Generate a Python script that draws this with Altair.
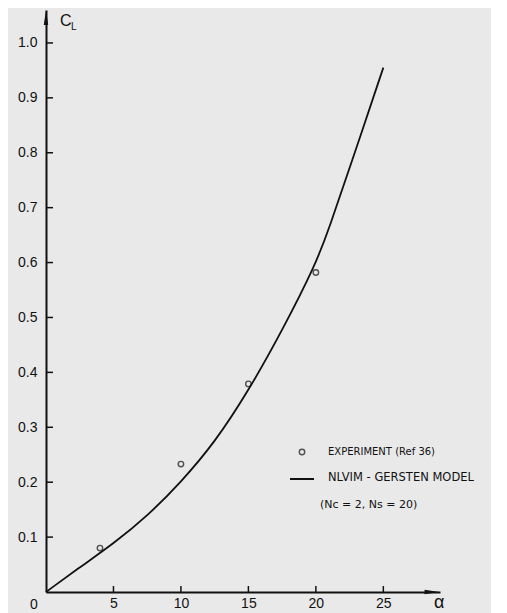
import altair as alt
import pandas as pd

# Experimental points (Ref 36)
alpha_exp = [4, 10, 15, 20]
cl_exp = [0.08, 0.233, 0.379, 0.582]

# NLVIM - Gersten model curve
alpha_model = [0, 2.5, 5, 7.5, 10, 12.5, 15, 17.5, 20, 21, 22.5, 25]
cl_model = [0, 0.045, 0.088, 0.138, 0.2, 0.272, 0.366, 0.476, 0.597, 0.664, 0.772, 0.955]

x_ticks = [5, 10, 15, 20, 25]
y_ticks = [0.1, 0.2, 0.3, 0.4, 0.5, 0.6, 0.7, 0.8, 0.9, 1.0]

X_MAX = 29.2
Y_MAX = 1.06
W, H = 394, 582
FONT = "Liberation Sans"

xs = alt.Scale(domain=[0, X_MAX], nice=False, zero=False)
ys = alt.Scale(domain=[0, Y_MAX], nice=False, zero=False)

df_exp = pd.DataFrame({"alpha": alpha_exp, "cl": cl_exp})
df_mod = pd.DataFrame({"alpha": alpha_model, "cl": cl_model})
df_xt = pd.DataFrame({"v": x_ticks})
df_yt = pd.DataFrame({"v": y_ticks})

base_axes = alt.Chart(df_mod).mark_line(opacity=0).encode(
    x=alt.X("alpha:Q", scale=xs, axis=alt.Axis(
        values=x_ticks, ticks=False, grid=False, domainColor="#111", domainWidth=2,
        labelFont=FONT, labelFontSize=14, labelColor="#111", labelPadding=4,
        title=None)),
    y=alt.Y("cl:Q", scale=ys, axis=alt.Axis(
        values=y_ticks, format=".1f", ticks=False, grid=False, domainColor="#111",
        domainWidth=2, labelFont=FONT, labelFontSize=14, labelColor="#111",
        labelPadding=9, title=None)),
)

curve = alt.Chart(df_mod).mark_line(color="#111", strokeWidth=1.8, interpolate="basis").encode(
    x=alt.X("alpha:Q", scale=xs), y=alt.Y("cl:Q", scale=ys))

pts = alt.Chart(df_exp).mark_point(shape="circle", filled=False, color="#111", size=30,
                                    strokeWidth=1.4).encode(
    x=alt.X("alpha:Q", scale=xs), y=alt.Y("cl:Q", scale=ys))

ytick_marks = alt.Chart(df_yt).mark_rule(color="#111", strokeWidth=1.5).encode(
    y=alt.Y("v:Q", scale=ys), x=alt.value(0), x2=alt.value(7))
xtick_marks = alt.Chart(df_xt).mark_rule(color="#111", strokeWidth=1.5).encode(
    x=alt.X("v:Q", scale=xs), y=alt.value(H), y2=alt.value(H - 6))

arrows = pd.DataFrame({"ax": [0, X_MAX], "ay": [Y_MAX, 0], "k": ["y", "x"]})
arrow_y = alt.Chart(arrows[arrows.k == "y"]).mark_point(
    shape="M0,-1L0.3,1L-0.3,1Z", filled=True, color="#111", size=220, yOffset=7.5, opacity=1
).encode(x=alt.X("ax:Q", scale=xs), y=alt.Y("ay:Q", scale=ys))
arrow_x = alt.Chart(arrows[arrows.k == "x"]).mark_point(
    shape="M1,0L-1,0.3L-1,-0.3Z", filled=True, color="#111", size=220, xOffset=-8, opacity=1
).encode(x=alt.X("ax:Q", scale=xs), y=alt.Y("ay:Q", scale=ys))

def label(text, x, y, size, align="left", baseline="middle", weight="normal", font=FONT):
    return alt.Chart(pd.DataFrame({"t": [text]})).mark_text(
        align=align, baseline=baseline, fontSize=size, font=font, color="#111",
        fontWeight=weight).encode(text="t:N", x=alt.value(x), y=alt.value(y))

labels = [
    label("C", 14, 11, 16),
    label("L", 25, 17, 10),
    label("α", 388, 593, 18),
    label("0", -12, 588, 14, align="center", baseline="top"),
]

# legend
leg_pt = alt.Chart(pd.DataFrame({"t": ["o"]})).mark_point(
    shape="circle", filled=False, color="#111", size=30, strokeWidth=1.4
).encode(x=alt.value(256), y=alt.value(442))
leg_line = alt.Chart(pd.DataFrame({"t": ["l"]})).mark_rule(color="#111", strokeWidth=2).encode(
    x=alt.value(244), x2=alt.value(268), y=alt.value(469))
leg_txt = [
    label("EXPERIMENT (Ref 36)", 282, 442, 10, font="DejaVu Sans"),
    label("NLVIM - GERSTEN MODEL", 282, 468, 11.5, font="DejaVu Sans"),
    label("(Nc = 2, Ns = 20)", 274, 495, 11, font="DejaVu Sans"),
]

chart = alt.layer(
    base_axes, ytick_marks, xtick_marks, curve, pts, arrow_y, arrow_x,
    leg_pt, leg_line, *labels, *leg_txt
).properties(
    width=W, height=H, background="#e9e9e9",
    padding={"left": 38, "top": 2, "right": 51, "bottom": 21},
    autosize=alt.AutoSizeParams(type="none"),
).configure_view(stroke=None)

chart.save("out.html", embed_options={"renderer": "svg", "actions": False})
